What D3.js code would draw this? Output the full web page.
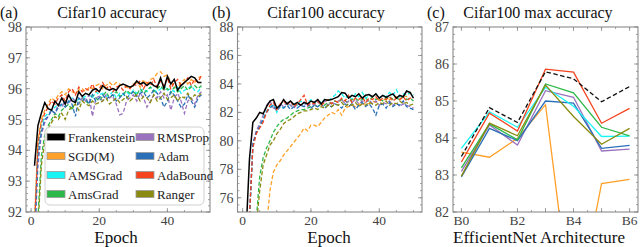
<!DOCTYPE html>
<html>
<head>
<meta charset="utf-8">
<script src="https://cdn.jsdelivr.net/npm/d3@7"></script>
<style>
  body { margin: 0; background: #fff; }
  text { font-family: "Liberation Serif", "Times New Roman", "DejaVu Serif", serif; }
</style>
</head>
<body>
<div id="chart"></div>
<script>
// series names + colours
const names = ["Frankenstein", "SGD(M)", "AMSGrad", "AmsGrad", "RMSProp", "Adam", "AdaBound", "Ranger"];
const colors = ["#000000", "#ffa028", "#19f5f5", "#2db84a", "#9a72be", "#2a70b8", "#f5431e", "#8a8a10"];

const epochs = d3.range(1, 51);

// (a) Cifar10 accuracy per epoch
const c10Frank = [93.5,94.8,95.2,95.55,95.35,95.3,95.6,95.45,95.7,95.5,95.8,95.6,95.55,95.9,95.75,95.85,95.8,95.95,96.0,95.9,96.1,96.0,95.95,96.0,95.95,96.1,96.15,96.1,96.05,96.1,96.25,96.15,96.2,96.1,96.2,96.1,96.05,96.35,96.0,96.4,96.15,96.3,95.95,96.1,96.2,96.3,96.4,96.35,96.2,96.2];
const c10Sgd = [91.8,94.3,95.0,95.3,95.5,95.7,95.6,95.8,95.9,95.8,96.0,95.9,95.85,95.95,96.0,95.9,96.05,96.0,96.1,96.15,96.0,96.1,96.2,96.1,96.2,96.15,96.1,96.05,96.0,96.15,96.2,96.05,96.3,96.1,96.3,96.35,96.5,96.55,96.4,96.45,96.2,96.1,96.0,96.2,96.3,96.15,96.3,96.2,96.35,96.4];
const c10Amsg = [91.5,94.0,94.8,95.1,95.2,95.3,95.4,95.5,95.45,95.6,95.55,95.7,95.6,95.65,95.7,95.75,95.8,95.7,95.9,95.8,95.85,95.75,95.8,95.9,95.7,95.85,95.8,95.9,95.8,95.95,95.85,95.9,96.0,95.9,96.05,95.95,95.9,96.0,96.1,95.95,96.0,95.9,96.05,95.85,95.95,96.0,96.1,95.95,95.9,96.05];
const c10AmsG2 = [90.0,91.8,93.8,94.5,94.8,95.0,95.2,95.1,95.3,95.4,95.5,95.3,95.6,95.5,95.7,95.6,95.5,95.8,95.7,95.6,95.75,95.9,95.7,95.8,95.9,95.75,95.8,95.95,95.85,95.9,95.8,96.0,95.85,95.95,96.05,95.9,96.0,96.1,95.95,96.0,95.85,96.05,95.9,96.0,96.1,95.95,96.05,96.1,96.0,96.1];
const c10Rms = [91.0,93.5,94.5,94.9,95.1,95.3,95.2,95.5,95.4,95.6,95.5,95.7,95.6,95.5,95.7,95.6,95.8,95.1,95.7,95.75,95.6,95.8,95.7,95.75,95.5,95.15,95.2,95.6,95.7,95.8,95.6,95.85,95.7,95.4,95.6,95.8,95.7,95.9,95.7,95.8,95.3,95.7,95.85,95.6,95.2,95.6,95.7,95.5,95.8,95.9];
const c10Adam = [91.2,93.8,94.6,95.0,95.1,95.3,95.2,95.4,95.5,95.4,95.6,95.5,95.1,95.7,95.6,95.7,95.5,95.8,95.6,95.7,95.8,95.65,95.75,95.8,95.6,95.7,95.85,95.7,95.8,95.9,95.75,95.85,95.9,95.7,95.8,95.95,95.85,95.7,95.4,95.6,95.9,95.8,95.6,95.4,95.5,95.8,95.6,95.4,95.7,95.8];
const c10Adab = [91.5,94.2,94.9,95.2,95.4,95.6,95.5,95.7,95.8,95.6,95.9,96.0,95.8,96.05,95.9,96.0,95.95,96.15,95.9,96.0,96.2,96.0,96.1,95.9,96.05,96.1,95.95,96.1,96.0,96.15,96.1,96.25,96.0,96.2,96.1,96.3,96.05,96.25,96.1,96.35,96.0,96.2,96.3,96.1,96.2,96.35,96.1,96.3,96.2,96.45];
const c10Ranger = [89.5,91.5,93.5,94.3,94.7,94.9,95.1,95.0,95.2,95.0,95.3,95.4,95.5,95.3,95.6,95.5,95.45,95.6,95.5,95.55,95.6,95.7,95.5,95.6,95.7,95.55,95.65,95.75,95.6,95.7,95.8,95.6,95.75,95.7,95.55,95.8,95.6,95.7,95.85,95.65,95.7,95.8,95.6,95.75,95.7,95.85,95.65,95.8,95.75,95.85];

// (b) Cifar100 accuracy per epoch
const c100Frank = [73.5,78.7,81.3,81.6,82.0,81.9,82.4,82.8,82.9,82.3,82.5,82.9,82.6,82.8,82.55,82.7,82.5,82.7,82.6,82.8,82.7,82.9,82.6,82.9,82.85,82.9,83.0,83.1,83.4,83.35,83.0,83.2,83.1,83.3,83.0,83.2,83.25,83.1,83.3,83.0,83.2,83.05,83.2,83.3,83.0,83.2,83.1,83.5,83.4,83.0];
const c100Sgd = [60.0,64.0,67.0,69.0,71.0,72.5,74.0,76.5,77.8,78.3,78.6,79.0,79.3,79.6,79.9,80.2,80.5,80.9,80.7,81.1,81.1,81.0,81.3,81.6,81.8,82.0,81.9,82.2,81.8,82.3,82.4,82.5,82.4,82.6,82.5,82.7,82.6,82.8,82.7,82.9,82.8,83.0,82.9,83.0,83.1,82.9,83.2,83.1,83.4,83.3];
const c100Amsg = [70.0,74.5,79.6,80.6,81.0,81.6,82.1,82.4,82.6,82.0,82.5,82.3,82.6,82.4,82.7,82.5,82.8,82.6,82.7,82.9,82.6,82.8,82.7,82.9,82.8,83.0,83.2,83.5,83.3,83.0,83.2,82.9,83.3,83.1,83.4,83.0,83.2,83.1,83.3,83.0,83.2,83.1,83.4,83.2,83.6,83.1,83.3,83.2,83.4,83.2];
const c100AmsG2 = [66.0,70.0,73.0,74.5,77.5,78.8,79.5,80.0,80.6,81.0,81.3,81.5,81.6,81.8,82.0,82.1,82.2,82.2,82.3,82.4,82.5,82.4,82.6,82.5,82.7,82.6,82.8,82.7,82.9,82.8,82.7,82.9,83.0,82.8,82.9,83.0,82.8,83.1,82.9,83.0,82.8,83.0,83.1,82.9,83.0,82.9,83.1,82.9,83.0,82.8];
const c100Rms = [70.0,74.6,79.8,80.7,81.2,81.8,82.5,82.8,82.3,82.2,82.6,82.4,82.7,82.5,82.3,82.6,82.5,82.7,82.4,82.6,82.5,82.7,82.6,82.8,82.5,82.7,82.6,82.8,82.9,82.6,82.8,82.7,82.9,82.6,82.8,82.7,82.9,82.6,82.8,82.5,82.7,82.6,82.8,82.5,82.7,82.4,82.6,82.5,82.4,82.3];
const c100Adam = [70.0,74.4,79.8,80.6,81.0,81.5,82.0,82.3,82.5,82.1,82.4,82.3,82.5,82.2,82.4,82.3,82.5,82.4,82.6,82.3,82.5,82.4,82.6,82.3,82.5,82.4,82.6,82.5,82.3,82.6,82.4,82.6,82.2,82.5,82.7,82.4,82.6,82.3,81.8,82.5,82.6,82.3,82.7,82.4,82.6,82.5,82.8,82.4,82.3,82.2];
const c100Adab = [70.0,74.8,79.5,80.5,80.9,81.3,82.0,82.5,82.7,82.2,82.6,82.8,82.5,82.8,82.4,82.6,82.9,83.2,82.5,82.7,82.6,82.8,82.5,82.7,82.9,82.6,82.8,82.7,83.0,82.8,83.2,82.7,83.0,82.9,83.1,82.7,83.0,82.9,83.1,82.8,83.0,82.9,83.1,82.8,83.0,82.9,83.1,82.8,83.0,83.0];
const c100Ranger = [65.0,69.0,72.0,74.0,76.5,78.3,79.0,79.7,80.0,80.5,80.8,81.2,81.4,81.5,81.7,81.9,82.0,82.1,82.1,82.2,82.3,82.2,82.4,82.3,82.5,82.4,82.6,82.5,82.7,82.4,82.6,82.5,82.7,82.4,82.6,82.5,82.7,82.6,82.5,82.7,82.6,82.8,82.5,82.7,82.6,82.8,82.6,82.7,82.5,82.6];

// (c) Cifar100 max accuracy vs EfficientNet size
const archs = ["B0", "B1", "B2", "B3", "B4", "B5", "B6"];
const maxFrank = [83.5, 84.82, 84.42, 85.79, 85.6, 84.98, 85.39];
const maxSgd = [83.62, 83.48, 83.99, 84.9, 78.9, 82.77, 82.88];
const maxAmsg = [83.72, 84.71, 84.29, 85.37, 84.86, 84.04, 84.05];
const maxAmsG2 = [83.19, 84.38, 83.95, 85.46, 85.22, 84.29, 84.06];
const maxRms = [83.1, 84.35, 83.81, 85.28, 85.1, 83.65, 83.7];
const maxAdam = [82.95, 84.26, 83.93, 85.0, 84.94, 83.72, 83.8];
const maxAdab = [83.35, 84.67, 84.19, 85.86, 85.78, 84.4, 84.8];
const maxRanger = [82.97, 84.4, 84.06, 85.43, 84.58, 83.83, 84.26];

const c10Series = [c10Frank, c10Sgd, c10Amsg, c10AmsG2, c10Rms, c10Adam, c10Adab, c10Ranger];
const c100Series = [c100Frank, c100Sgd, c100Amsg, c100AmsG2, c100Rms, c100Adam, c100Adab, c100Ranger];
const maxSeries = [maxFrank, maxSgd, maxAmsg, maxAmsG2, maxRms, maxAdam, maxAdab, maxRanger];

const W = 640, H = 247;
const plotTop = 27, plotBottom = 212;
const FONT = '"Liberation Serif", "Times New Roman", "DejaVu Serif", serif';
const svg = d3.select('#chart').append('svg').attr('width', W).attr('height', H)
  .style('display', 'block').attr('font-family', FONT);

// frame + inward ticks on all four sides
function drawFrame(g, x, y, xMajor, xMinor, yMajor, yMinor, xFmt, yFmt) {
  const [x0, x1] = x.range();
  const [y0, y1] = y.range(); // y0 = bottom
  const gray = '#8a8a8a';
  const tk = g.append('g').attr('stroke', gray).attr('stroke-width', 0.8);
  xMinor.forEach(v => {
    tk.append('line').attr('x1', x(v)).attr('x2', x(v)).attr('y1', y0).attr('y2', y0 - 2);
    tk.append('line').attr('x1', x(v)).attr('x2', x(v)).attr('y1', y1).attr('y2', y1 + 2);
  });
  xMajor.forEach(v => {
    tk.append('line').attr('x1', x(v)).attr('x2', x(v)).attr('y1', y0).attr('y2', y0 - 4);
    tk.append('line').attr('x1', x(v)).attr('x2', x(v)).attr('y1', y1).attr('y2', y1 + 4);
  });
  yMinor.forEach(v => {
    tk.append('line').attr('x1', x0).attr('x2', x0 + 2).attr('y1', y(v)).attr('y2', y(v));
    tk.append('line').attr('x1', x1).attr('x2', x1 - 2).attr('y1', y(v)).attr('y2', y(v));
  });
  yMajor.forEach(v => {
    tk.append('line').attr('x1', x0).attr('x2', x0 + 4).attr('y1', y(v)).attr('y2', y(v));
    tk.append('line').attr('x1', x1).attr('x2', x1 - 4).attr('y1', y(v)).attr('y2', y(v));
  });
  g.append('rect').attr('x', x0).attr('y', y1).attr('width', x1 - x0).attr('height', y0 - y1)
    .attr('fill', 'none').attr('stroke', gray).attr('stroke-width', 1.1);

  g.append('g').selectAll('text').data(xMajor.filter(xFmt.show)).join('text')
    .attr('x', d => x(d)).attr('y', y0 + 13).attr('text-anchor', 'middle')
    .attr('font-family', FONT).attr('font-size', 13.5).attr('fill', '#444').text(xFmt.text);
  g.append('g').selectAll('text').data(yMajor).join('text')
    .attr('x', x0 - 4).attr('y', d => y(d) + 5).attr('text-anchor', 'end')
    .attr('font-family', FONT).attr('font-size', 14).attr('fill', '#444').text(yFmt);
}

function titles(g, letter, lx, title, tx, xlabel, cx) {
  g.append('text').attr('x', lx).attr('y', 18).attr('font-family', FONT).attr('font-size', 16)
    .attr('fill', '#111').text(letter);
  g.append('text').attr('x', tx).attr('y', 18).attr('font-family', FONT).attr('font-size', 16)
    .attr('fill', '#111').attr('text-anchor', 'middle').text(title);
  g.append('text').attr('x', cx).attr('y', 243).attr('font-family', FONT).attr('font-size', 17)
    .attr('fill', '#111').attr('text-anchor', 'middle').text(xlabel);
}

function epochPanel(id, left, right, yDom, series, yMajor, yMinor) {
  const g = svg.append('g');
  const x = d3.scaleLinear().domain([-1.5, 52.5]).range([left, right]);
  const y = d3.scaleLinear().domain(yDom).range([plotBottom, plotTop]);
  g.append('clipPath').attr('id', id).append('rect')
    .attr('x', left).attr('y', plotTop).attr('width', right - left).attr('height', plotBottom - plotTop);
  const line = d3.line().x((d, i) => x(epochs[i])).y(d => y(d));
  const lines = g.append('g').attr('clip-path', `url(#${id})`);
  // dashed optimisers first, frankenstein on top
  [1, 2, 3, 4, 5, 6, 7].forEach(k => {
    lines.append('path').datum(series[k]).attr('d', line).attr('fill', 'none')
      .attr('stroke', colors[k]).attr('stroke-width', 1.3).attr('stroke-dasharray', '4,2.2');
  });
  lines.append('path').datum(series[0]).attr('d', line).attr('fill', 'none')
    .attr('stroke', colors[0]).attr('stroke-width', 1.5);
  drawFrame(g, x, y, [0, 20, 40], d3.range(0, 53, 5), yMajor, yMinor,
    { show: () => true, text: d => d }, d => d);
  return { g, x, y };
}

// (a)
const pa = epochPanel('clipA', 26, 210, [92, 98], c10Series, d3.range(92, 99, 1), d3.range(92, 98.01, 0.2));
titles(pa.g, '(a)', 0, 'Cifar10 accuracy', 112, 'Epoch', 116);

// legend in (a)
const leg = pa.g.append('g');
leg.append('rect').attr('x', 45).attr('y', 127).attr('width', 159).attr('height', 78).attr('rx', 5)
  .attr('fill', 'white').attr('fill-opacity', 0.85).attr('stroke', '#d0d0d0').attr('stroke-width', 1);
names.forEach((n, i) => {
  const col = i < 4 ? 0 : 1, row = i % 4;
  const sx = col ? 136 : 47, ty = 137 + row * 19;
  leg.append('rect').attr('x', sx).attr('y', ty - 3.5).attr('width', 18).attr('height', 7)
    .attr('fill', colors[i]).attr('stroke', '#999').attr('stroke-width', 0.8);
  leg.append('text').attr('x', sx + 21).attr('y', ty + 4.5).attr('font-family', FONT)
    .attr('font-size', 13).attr('fill', '#222').text(n);
});

// (b)
const pb = epochPanel('clipB', 237.5, 422, [75, 88], c100Series, d3.range(76, 89, 2), d3.range(75, 88.01, 0.5));
titles(pb.g, '(b)', 212, 'Cifar100 accuracy', 326, 'Epoch', 329);

// (c)
const gc = svg.append('g');
const xc = d3.scaleLinear().domain([-0.3, 6.3]).range([453, 638]);
const yc = d3.scaleLinear().domain([82, 87]).range([plotBottom, plotTop]);
gc.append('clipPath').attr('id', 'clipC').append('rect')
  .attr('x', 453).attr('y', plotTop).attr('width', 185).attr('height', plotBottom - plotTop);
const lineC = d3.line().x((d, i) => xc(i)).y(d => yc(d));
const linesC = gc.append('g').attr('clip-path', 'url(#clipC)');
[1, 4, 5, 2, 3, 7, 6].forEach(k => {
  linesC.append('path').datum(maxSeries[k]).attr('d', lineC).attr('fill', 'none')
    .attr('stroke', colors[k]).attr('stroke-width', 1.3);
});
linesC.append('path').datum(maxSeries[0]).attr('d', lineC).attr('fill', 'none')
  .attr('stroke', '#111').attr('stroke-width', 1.3).attr('stroke-dasharray', '4.5,2.5');
drawFrame(gc, xc, yc, d3.range(0, 7), d3.range(0, 6.01, 0.5), d3.range(82, 88), d3.range(82, 87.01, 0.2),
  { show: d => d % 2 === 0, text: d => archs[d] }, d => d);
titles(gc, '(c)', 427, 'Cifar100 max accuracy', 538, 'EfficientNet Architecture', 539);
</script>
</body>
</html>
